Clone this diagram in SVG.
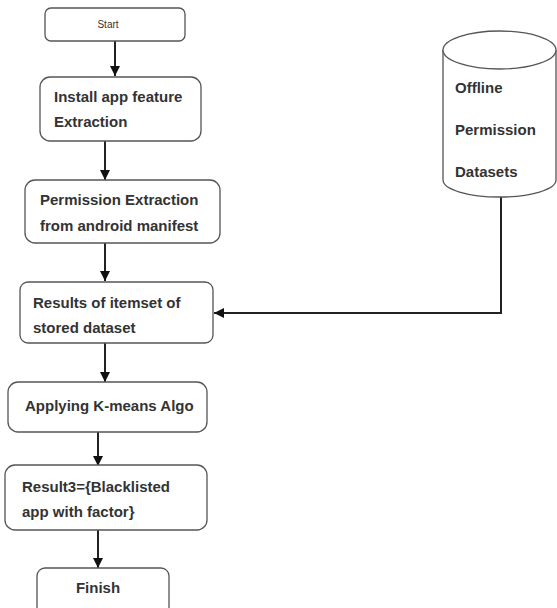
<svg xmlns="http://www.w3.org/2000/svg" width="557" height="608" viewBox="0 0 557 608">
<style>
.box{fill:#fff;stroke:#555;stroke-width:1.3}
.t{font-family:"Liberation Sans",Arial,sans-serif;font-size:15px;font-weight:bold;fill:#333}
.s{font-family:"Liberation Sans",Arial,sans-serif;font-size:10px;fill:#333}
.c{fill:none;stroke:#222;stroke-width:2}
</style>
<defs>
<marker id="ah2" viewBox="0 0 10 10" refX="10" refY="5" markerWidth="10" markerHeight="10" orient="auto" markerUnits="userSpaceOnUse">
<path d="M0,0 L10,5 L0,10 z" fill="#111"/>
</marker>
</defs>
<g id="connectors">
<path class="c" d="M115,41 V76" marker-end="url(#ah2)"/>
<path class="c" d="M105,141 V180" marker-end="url(#ah2)"/>
<path class="c" d="M105,243 V281" marker-end="url(#ah2)"/>
<path class="c" d="M501,197 V313 H214" marker-end="url(#ah2)"/>
<path class="c" d="M105,343 V382" marker-end="url(#ah2)"/>
<path class="c" d="M98,432 V466" marker-end="url(#ah2)"/>
<path class="c" d="M98,530 V568" marker-end="url(#ah2)"/>
</g>
<g id="start">
<rect class="box" x="45" y="8" width="140" height="33" rx="6"/>
<text class="s" x="108" y="28" text-anchor="middle">Start</text>
</g>
<g id="install">
<rect class="box" x="40" y="77" width="161" height="64" rx="10"/>
<text class="t" x="54" y="102">Install app feature</text>
<text class="t" x="54" y="127">Extraction</text>
</g>
<g id="permission">
<rect class="box" x="25" y="180" width="195" height="63" rx="10"/>
<text class="t" x="40" y="205">Permission Extraction</text>
<text class="t" x="40" y="231">from android manifest</text>
</g>
<g id="results">
<rect class="box" x="20" y="282" width="193" height="61" rx="8"/>
<text class="t" x="33" y="308">Results of itemset of</text>
<text class="t" x="33" y="333">stored dataset</text>
</g>
<g id="kmeans">
<rect class="box" x="8" y="382" width="199" height="50" rx="10"/>
<text class="t" x="25" y="411">Applying K-means Algo</text>
</g>
<g id="result3">
<rect class="box" x="5" y="465" width="202" height="65" rx="10"/>
<text class="t" x="22" y="492">Result3={Blacklisted</text>
<text class="t" x="22" y="517">app with factor}</text>
</g>
<g id="finish">
<rect class="box" x="37" y="568" width="132" height="48" rx="8"/>
<text class="t" x="98" y="593" text-anchor="middle">Finish</text>
</g>
<g id="datasets">
<path class="box" d="M443,50 V180 A56.5,17 0 0 0 556,180 V50"/>
<ellipse class="box" cx="499.5" cy="50" rx="56.5" ry="19"/>
<text class="t" x="455" y="93">Offline</text>
<text class="t" x="455" y="135">Permission</text>
<text class="t" x="455" y="177">Datasets</text>
</g>
</svg>
